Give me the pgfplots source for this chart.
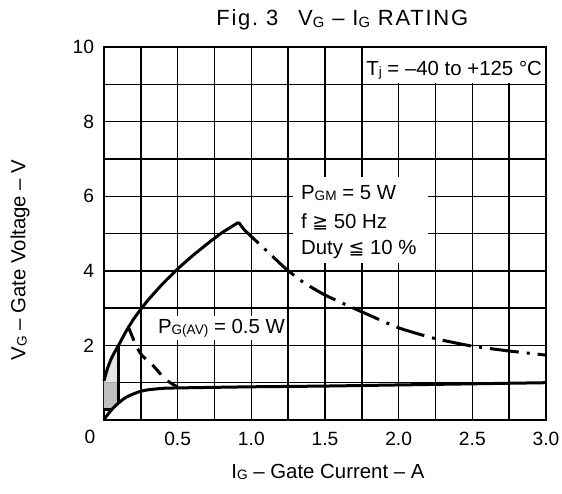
\documentclass[border=0pt]{standalone}
\usepackage{fontspec}
\setmainfont{Liberation Sans}
\newfontfamily\dejavu{DejaVu Sans}
\newfontfamily\titlefont[LetterSpace=8]{Liberation Sans}
\usepackage{pgfplots}
\pgfplotsset{compat=1.18}
\newcommand{\sub}[1]{\raisebox{-0.12ex}{\fontsize{6.8}{6.8}\selectfont #1}}
\newcommand{\tsub}[1]{\raisebox{-0.12ex}{\fontsize{7.4}{7.4}\selectfont #1}}
\newcommand{\ftk}{\fontsize{9.6}{11}\selectfont}
\newcommand{\fan}{\fontsize{10.2}{12}\selectfont}
\begin{document}
\begin{tikzpicture}
\begin{axis}[
  name=ax,
  width=221pt, height=186.5pt, scale only axis,
  xmin=0, xmax=3, ymin=0, ymax=10,
  clip=false,
  xtick={0.5,1,1.5,2,2.5,3},
  xticklabels={0.5,1.0,1.5,2.0,2.5,3.0},
  minor xtick={0.25,0.75,1.25,1.75,2.25,2.75},
  ytick={2,4,6,8,10},
  minor ytick={1,3,5,7,9},
  major tick length=0pt, minor tick length=0pt,
  grid=both,
  major grid style={black, line width=0.7pt},
  minor grid style={black, line width=0.7pt},
  axis line style={black, line width=1pt},
  /pgf/number format/assume math mode=true,
  tick label style={font=\ftk},
  xticklabel style={anchor=north, yshift=-2.6pt},
  yticklabel style={anchor=east, xshift=-1.5pt},
]
% shaded area
\addplot[draw=none, fill=gray!50] coordinates {(0,0.29) (0.055,0.29) (0.07,0.35) (0.1,0.46) (0.1,1.0) (0,1.0)} -- cycle;
\addplot[draw=none, fill=gray!22] coordinates {(0,1.0) (0.1,1.0) (0.1,2.01) (0.075,1.84) (0.05,1.65) (0.025,1.4) (0.01,1.2) (0,1.05)} -- cycle;

% white label boxes
\fill[white] (axis cs:1.765,9.04) rectangle (axis cs:2.985,9.96);
\fill[white] (axis cs:1.28,4.2) rectangle (axis cs:2.2,6.52);
\fill[white] (axis cs:0.35,2.15) rectangle (axis cs:1.24,2.8);

% upper solid curve
\addplot[black, line width=1.5pt, smooth, tension=0.3] coordinates {
 (0,1.05) (0.01,1.2) (0.025,1.4) (0.05,1.65) (0.075,1.84) (0.1,2.01) (0.15,2.38)
 (0.2,2.70) (0.25,2.97) (0.3,3.22) (0.4,3.66) (0.5,4.05) (0.6,4.40) (0.7,4.72)
 (0.8,5.02) (0.914,5.3)};
% P_GM = 5 W dash-dot
\addplot[black, line width=1.5pt, smooth, tension=0.3, dash pattern=on 2pt off 0pt on 12.5pt off 4pt on 1.5pt off 4pt] coordinates {
 (0.914,5.3) (0.95,5.11) (1.0,4.92) (1.1,4.55) (1.23,4.07) (1.35,3.7) (1.5,3.35)
 (1.75,2.9) (2.0,2.47) (2.25,2.18) (2.5,1.98) (2.75,1.85) (3.0,1.74)};
% P_G(AV) = 0.5 W dashed
\addplot[black, line width=1.5pt, smooth, tension=0.3, dash pattern=on 6.5pt off 4.5pt] coordinates {
 (0.17,2.45) (0.22,1.97) (0.256,1.74) (0.3,1.58) (0.335,1.45) (0.38,1.25) (0.43,1.05) (0.5,0.88)};
% lower solid curve
\addplot[black, line width=1.5pt, smooth, tension=0.3] coordinates {
 (0,0.02) (0.02,0.12) (0.04,0.22) (0.06,0.31) (0.08,0.39) (0.1,0.46) (0.125,0.54)
 (0.15,0.61) (0.2,0.7) (0.25,0.77) (0.3,0.81) (0.4,0.85) (0.5,0.86) (1.0,0.89)
 (1.5,0.91) (2.0,0.94) (2.5,0.97) (3.0,1.0)};
% boundary lines of the shaded area
\addplot[black, line width=1.5pt] coordinates {(0,0.29) (0.055,0.29)};
\addplot[black, line width=1.5pt] coordinates {(0.1,0.46) (0.1,2.01)};

% texts
\node[anchor=east, font=\fan, inner sep=0pt] at (axis cs:2.975,9.38) {T\sub{j} = –40 to +125 °C};
\node[anchor=west, font=\fan, inner sep=0pt] at (axis cs:1.335,6.09) {P\sub{GM} = 5 W};
\node[anchor=west, font=\fan, inner sep=0pt] at (axis cs:1.335,5.32) {f {\dejavu\fontsize{9.4}{11}\selectfont ≧} 50 Hz};
\node[anchor=west, font=\fan, inner sep=0pt] at (axis cs:1.335,4.56) {Duty {\dejavu\fontsize{9.4}{11}\selectfont ≦} 10 \%};
\node[anchor=west, font=\fan, inner sep=0pt] at (axis cs:0.364,2.46) {P\sub{G(AV)} = 0.5 W};

\node[font=\ftk] at ([xshift=-7pt,yshift=-8.5pt]axis cs:0,0) {0};
\node[font=\titlefont\fontsize{11}{13}\selectfont, anchor=base west, inner sep=0pt] at ([xshift=56pt,yshift=10.5pt]axis cs:0,10) {Fig.~3\hspace{0.9em}V\tsub{G} – I\tsub{G} RATING};
\node[font=\fan] at ([xshift=1.5pt,yshift=-26pt]axis cs:1.5,0) {I\sub{G} – Gate Current – A};
\node[font=\fan, rotate=90] at ([xshift=-42pt]axis cs:0,4.29) {V\sub{G} – Gate Voltage – V};
\end{axis}
\pgfresetboundingbox
\path ([xshift=-52pt,yshift=-36.5pt]ax.south west) rectangle ([xshift=8pt,yshift=23.5pt]ax.north east);
\end{tikzpicture}
\end{document}
